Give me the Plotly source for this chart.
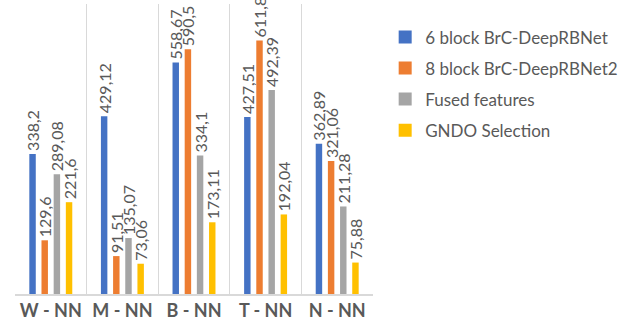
import plotly.graph_objects as go

categories = ["W - NN", "M - NN", "B - NN", "T - NN", "N - NN"]
series_names = ["6 block BrC-DeepRBNet", "8 block BrC-DeepRBNet2",
                "Fused features", "GNDO Selection"]
six_block = [338.2, 429.12, 558.67, 427.51, 362.89]
eight_block = [129.6, 91.51, 590.5, 611.8, 321.06]
fused = [289.08, 135.07, 334.1, 492.39, 211.28]
gndo = [221.6, 73.06, 173.11, 192.04, 75.88]
colors = ["#4472C4", "#ED7D31", "#A5A5A5", "#FFC000"]

FONT = "Lato, 'Open Sans', sans-serif"
GREY = "#595959"


def fmt(v):
    return ("%g" % v).replace(".", ",")


fig = go.Figure()
for i, (name, vals) in enumerate(zip(series_names,
                                     [six_block, eight_block, fused, gndo])):
    fig.add_trace(go.Bar(
        x=categories, y=vals, name=name,
        marker=dict(color=colors[i], line=dict(width=0)),
        text=[fmt(v) for v in vals],
        textposition="outside", textangle=-90,
        constraintext="none", cliponaxis=False,
        textfont=dict(family=FONT, size=16, color=GREY),
        showlegend=False,
    ))

# legend entries drawn as larger square swatches
for i, name in enumerate(series_names):
    fig.add_trace(go.Scatter(
        x=[None], y=[None], mode="markers", name=name,
        marker=dict(symbol="square", size=13, color=colors[i]),
        legendgroup=name,
    ))

fig.update_layout(
    width=634, height=324,
    margin=dict(l=15, r=261, t=4, b=30),
    paper_bgcolor="white", plot_bgcolor="white",
    barmode="group", bargap=0.32, bargroupgap=0.47,
    font=dict(family=FONT, color=GREY),
    showlegend=True,
    legend=dict(x=1.034, y=0.947, xanchor="left", yanchor="top",
                font=dict(family=FONT, size=17, color=GREY),
                tracegroupgap=6, itemwidth=30),
    xaxis=dict(
        type="category", tickson="boundaries", showgrid=True,
        gridcolor="#D9D9D9", gridwidth=1, ticks="",
        showline=True, linecolor="#D9D9D9", linewidth=1.5,
        tickfont=dict(family=FONT, size=18, color=GREY, weight="bold"),
        mirror=False,
    ),
    yaxis=dict(range=[0, 700], visible=False, showgrid=False),
)

fig.write_html("out.html")
